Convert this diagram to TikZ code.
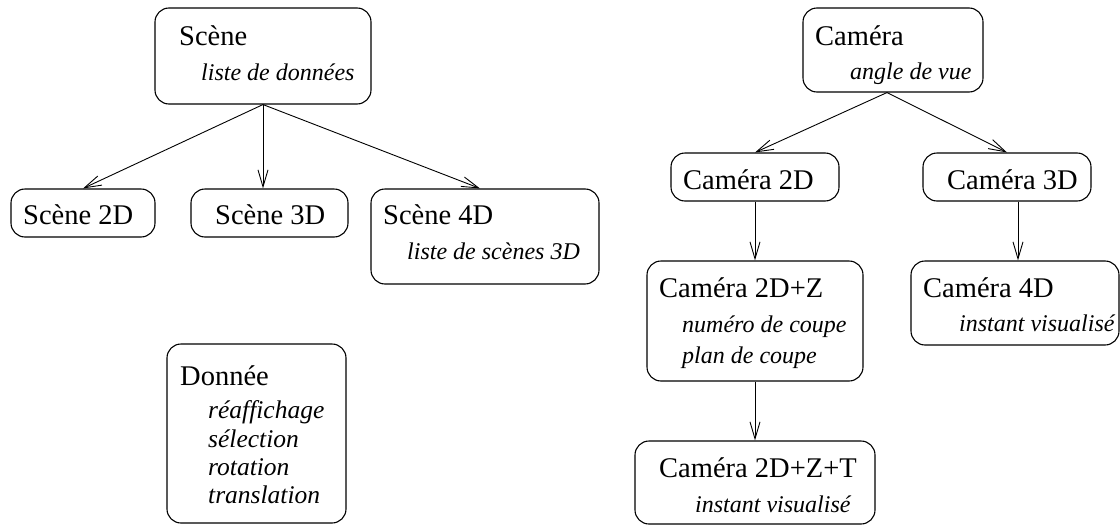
\documentclass[tikz,border=0pt]{standalone}
\usepackage{fontspec}
\setmainfont{Liberation Serif}
\usetikzlibrary{arrows.meta,fit}
\newcommand\rmsz{\fontsize{28.5}{34}\selectfont}
\newcommand\itsz{\fontsize{24}{29}\selectfont\itshape}
\newcommand\itszb{\fontsize{25.5}{29}\selectfont\itshape}
\tikzset{
  box/.style={draw, line width=1.1pt, rounded corners=14pt, inner sep=0pt},
  rmt/.style={anchor=base west, inner sep=0pt, font=\rmsz},
  itt/.style={anchor=base west, inner sep=0pt, font=\itsz},
  ittb/.style={anchor=base west, inner sep=0pt, font=\itszb},
  arr/.style={line width=0.9pt, -{Straight Barb[length=17pt,width=10pt,line width=0.9pt]}}
}
\begin{document}
\begin{tikzpicture}[x=1pt,y=-1pt]
\useasboundingbox (0,0) rectangle (1120,525);
% left tree
\node[box, fit={(155,8) (371,104)}] (scene) {};
\node[rmt] (sceneT) at (179,45) {Scène};
\node[itt] (sceneI) at (201,80) {liste de données};

\node[box, fit={(11,189) (155,237)}] (s2d) {};
\node[rmt] (s2dT) at (23,224) {Scène 2D};

\node[box, fit={(191,189) (348,237)}] (s3d) {};
\node[rmt] (s3dT) at (215,224) {Scène 3D};

\node[box, fit={(371,189) (599,284)}] (s4d) {};
\node[rmt] (s4dT) at (383,224) {Scène 4D};
\node[itt] (s4dI) at (407,259) {liste de scènes 3D};

\node[box, fit={(167,344) (346,523)}] (donnee) {};
\node[rmt] (donT) at (180,385) {Donnée};
\node[ittb] (don1) at (208,418) {réaffichage};
\node[ittb] (don2) at (208,447) {sélection};
\node[ittb] (don3) at (208,475) {rotation};
\node[ittb] (don4) at (208,503) {translation};

\draw[arr] (scene.south) -- (s2d.north);
\draw[arr] (scene.south) -- (scene.south |- s3d.north);
\draw[arr] (scene.south) -- ([xshift=-5pt]s4d.north);

% right tree
\node[box, fit={(803,8) (983,92)}] (cam) {};
\node[rmt] (camT) at (815,45) {Caméra};
\node[itt] (camI) at (850,79) {angle de vue};

\node[box, fit={(671,153) (839,201)}] (c2d) {};
\node[rmt] (c2dT) at (683,189) {Caméra 2D};

\node[box, fit={(923,153) (1091,201)}] (c3d) {};
\node[rmt] (c3dT) at (947,189) {Caméra 3D};

\node[box, fit={(647,261) (863,381)}] (c2dz) {};
\node[rmt] (c2dzT) at (659,297) {Caméra 2D+Z};
\node[itt] (c2dz1) at (682,332) {numéro de coupe};
\node[itt] (c2dz2) at (682,363) {plan de coupe};

\node[box, fit={(911,261) (1119,345)}] (c4d) {};
\node[rmt] (c4dT) at (923,297) {Caméra 4D};
\node[itt] (c4dI) at (959,331) {instant visualisé};

\node[box, fit={(635,441) (875,524)}] (c2dzt) {};
\node[rmt] (c2dztT) at (659,477) {Caméra 2D+Z+T};
\node[itt] (c2dztI) at (695,512) {instant visualisé};

\draw[arr] ([xshift=-6pt]cam.south) -- (c2d.north);
\draw[arr] ([xshift=-6pt]cam.south) -- (c3d.north);
\draw[arr] (c2d.south) -- (c2dz.north);
\coordinate (c3dout) at ([xshift=11pt]c3d.south);
\draw[arr] (c3dout) -- (c3dout |- c4d.north);
\draw[arr] (c2dz.south) -- (c2dz.south |- c2dzt.north);
\end{tikzpicture}
\end{document}
